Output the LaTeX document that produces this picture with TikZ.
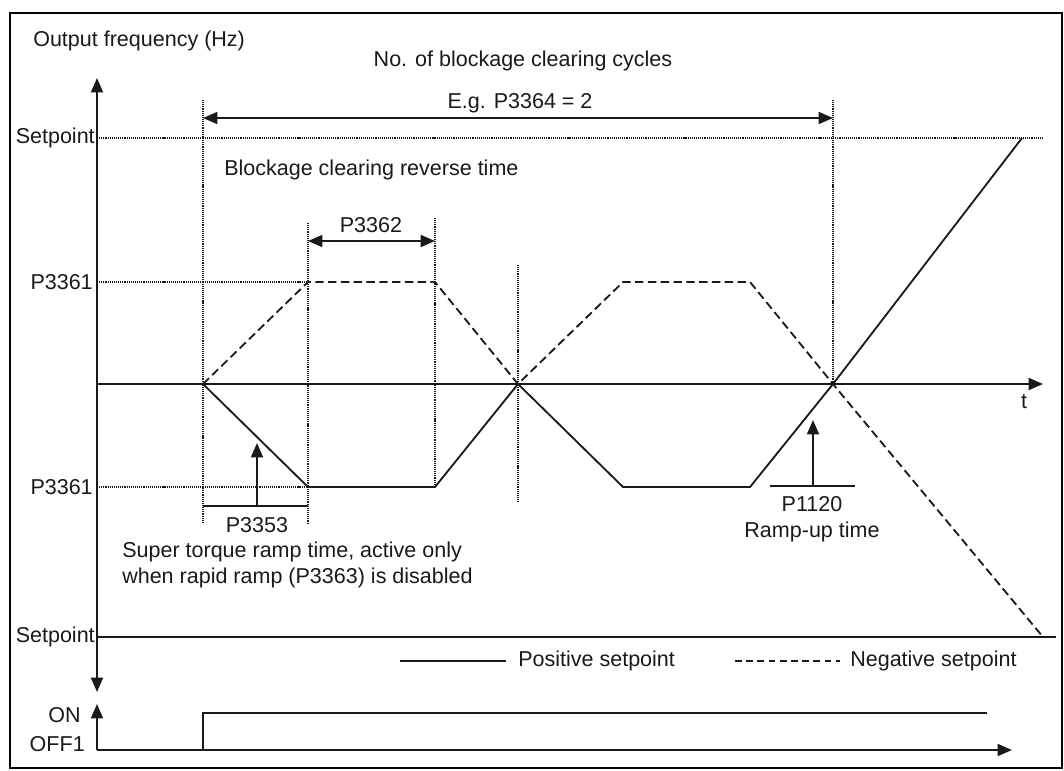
\documentclass[tikz,border=0pt]{standalone}
\usepackage{fontspec}
\setmainfont{Liberation Sans}
\usepackage{tikz}
\usetikzlibrary{
  arrows.meta,
  positioning,
  calc,
}
\definecolor{ink}{HTML}{1A1A1A}
\definecolor{paper}{HTML}{FFFFFF}
\tikzset{
  >={Triangle[length=0.36cm,width=0.30cm]},
  font=\fontsize{15.3}{18.4}\selectfont,
  every node/.append style={text=ink, inner sep=0pt},
  axisline/.style={draw=ink, line width=1.3pt},
  guide/.style={draw=ink, line width=0.85pt, dash pattern=on 0.8pt off 0.7pt},
  poscurve/.style={draw=ink, line width=1.3pt},
  negcurve/.style={draw=ink, line width=1.3pt, dash pattern=on 0.21cm off 0.11cm},
  negkey/.style={draw=ink, line width=1.2pt, dash pattern=on 0.17cm off 0.11cm},
  spanarrow/.style={draw=ink, line width=1.3pt, <->},
  levelname/.style={anchor=east},
}

\begin{document}
\begin{tikzpicture}[x=0.025cm,y=-0.025cm]
  \useasboundingbox (0,0) rectangle (1064,770);
  \fill[paper] (0,0) rectangle (1064,770);
  \draw[line width=1.4pt] (10,13) rectangle (1062,768);

  % axes
  \coordinate (ytop) at (97,78);
  \coordinate (ybot) at (97,692);
  \coordinate (zero) at (97,384);
  \coordinate (tend) at (1043,384);
  \draw[axisline, <->] (ybot) -- (ytop);
  \draw[axisline, ->] (zero) -- (tend);
  \node[anchor=west] (yname) at (33,41) {Output frequency (Hz)};
  \node (tname) at (1024,402) {t};

  % levels
  \node[levelname] (sptop) at (95,138) {Setpoint};
  \node[levelname] (p61top) at (93,282) {P3361};
  \node[levelname] (p61bot) at (93,487) {P3361};
  \node[levelname] (spbot) at (95,637) {Setpoint};
  \coordinate (sptopend) at (1043,138);
  \coordinate (p61topend) at (308,282);
  \coordinate (p61botend) at (308,487);
  \coordinate (spbotend) at (1056,637);
  \draw[guide] (97,138) -- (sptopend);
  \draw[guide] (97,282) -- (p61topend);
  \draw[guide] (97,487) -- (p61botend);
  \draw[draw=ink, line width=1pt] (97,637) -- (spbotend);

  % time marks
  \foreach \x/\ya/\yb in {203/100/523, 308/223/523, 435/218/487, 518/265/503, 833/100/384} {
    \draw[guide] (\x,\ya) -- (\x,\yb);
  }

  % ramps
  \draw[poscurve] (203,384) -- (308,487) -- (435,487) -- (518,384) -- (623,487)
    -- (750,487) -- (833,384) -- (1022,138);
  \draw[negcurve] (203,384) -- (308,282) -- (435,282) -- (518,384) -- (623,282)
    -- (750,282) -- (833,384) -- (1043,637);

  % cycles and reverse time
  \node (cycles) at (523,61) {No. of blockage clearing cycles};
  \node (example) at (520,103) {E.g. P3364 = 2};
  \draw[spanarrow] (203,118) -- (833,118);
  \node[anchor=west] (reverse) at (224,170) {Blockage clearing reverse time};
  \node (p62) at (371,225) {P3362};
  \draw[spanarrow] (308,241) -- (435,241);

  % ramp times
  \draw[axisline] (203,506) -- (308,506);
  \draw[axisline, ->] (257,506) -- (257,443);
  \node (p53) at (257,525) {P3353};
  \node[anchor=west, align=left] (torque) at (122,565)
    {Super torque ramp time, active only\\when rapid ramp (P3363) is disabled};
  \draw[axisline] (770,486) -- (855,486);
  \draw[axisline, ->] (813,486) -- (813,420);
  \node[align=center] (p20) at (812,519) {P1120\\Ramp-up time};

  % legend
  \draw[poscurve] (400,661) -- (506,661);
  \node[anchor=west] (poskey) at (518,661) {Positive setpoint};
  \draw[negkey] (735,661) -- (840,661);
  \node[anchor=west] (negkeytext) at (850,661) {Negative setpoint};

  % ON / OFF1
  \node[anchor=east] (on) at (81,715) {ON};
  \node[anchor=east] (off) at (85,744) {OFF1};
  \draw[axisline, ->] (97,750) -- (97,704);
  \draw[axisline, ->] (97,750) -- (1012,750);
  \draw[poscurve] (203,750) -- (203,713) -- (987,713);
\end{tikzpicture}
\end{document}
